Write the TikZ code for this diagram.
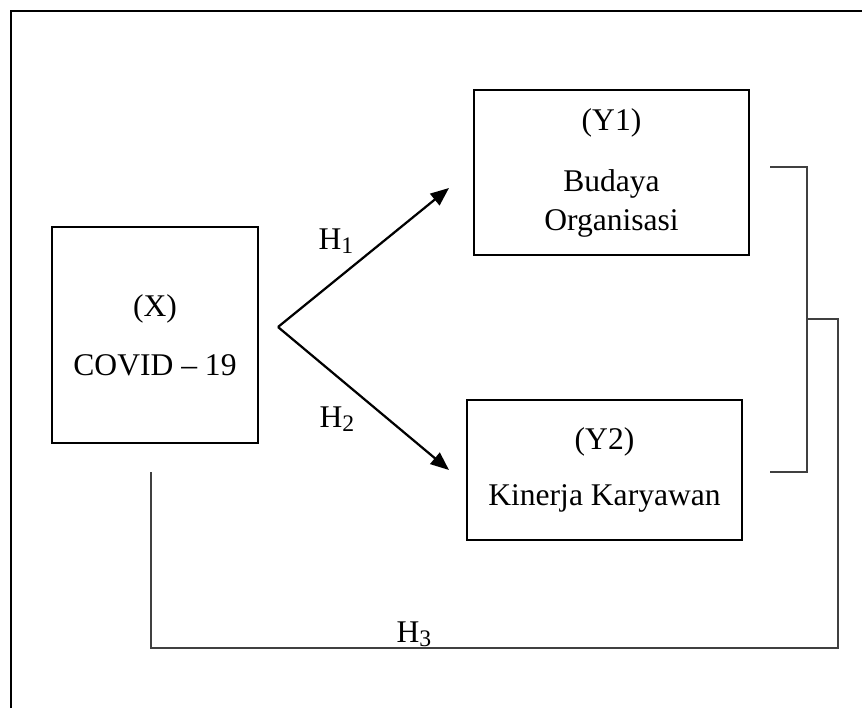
\documentclass[tikz,border=0pt]{standalone}
\usepackage{fontspec}
\setmainfont{Liberation Serif}
\usetikzlibrary{arrows.meta}
\def\hyp#1{H\raisebox{-1.5pt}{\fontsize{9}{9}\selectfont #1}}

\begin{document}
\begin{tikzpicture}[x=0.38pt, y=-0.38pt, font=\fontsize{12}{14.5}\selectfont,
		box/.style={draw, line width=0.85pt, inner sep=0pt, outer sep=0pt, align=center},
		link/.style={line width=0.55pt, color=black!75},
		arr/.style={line width=0.85pt, -{Triangle[length=7pt, width=5.6pt]}}]
		%%%%% START %%%%%
		
		\useasboundingbox (0, 0) rectangle (862, 708);
		\draw[line width=1.1pt] (11, 708) -- (11, 11) -- (862, 11);
		
		\node[box, minimum width=78.3pt, minimum height=82.1pt] (covid) at (155, 335) {(X)\\[8pt]COVID -- 19};
		\node[box, minimum width=104.5pt, minimum height=62.7pt] (budaya) at (611.5, 172.5) {(Y1)\\[9pt]Budaya\\Organisasi};
		\node[box, minimum width=104.5pt, minimum height=53.2pt] (kinerja) at (604.5, 470) {(Y2)\\[7pt]Kinerja Karyawan};
		
		\coordinate (fork) at (278, 327);
		\coordinate (h1end) at (449, 188);
		\coordinate (h2end) at (449, 470);
		\draw[arr] (fork) -- (h1end);
		\draw[arr] (fork) -- (h2end);
		\node (h1) at (336, 241) {\hyp{1}};
		\node (h2) at (337, 419) {\hyp{2}};
		
		\coordinate (bt) at (770, 167);
		\coordinate (bb) at (770, 472);
		\coordinate (bm) at (807, 319);
		\draw[link] (bt) -- (807, 167) -- (807, 472) -- (bb);
		\draw[link] (bm) -- (838, 319) -- (838, 648) -- (151, 648) -- (151, 472);
		\node (h3) at (414, 634) {\hyp{3}};
		
		%%%%% END %%%%%
\end{tikzpicture}
\end{document}
